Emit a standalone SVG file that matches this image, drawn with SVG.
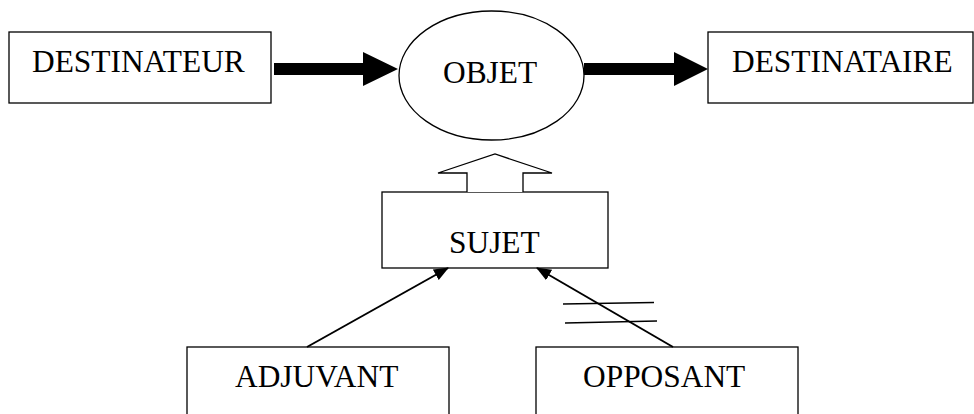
<svg xmlns="http://www.w3.org/2000/svg" width="974" height="414" viewBox="0 0 974 414">
<style>
.box{fill:#fff;stroke:#000;stroke-width:1.3}
.t{font-family:"Liberation Serif","Times New Roman",serif;font-size:31.4px;fill:#000}
.ln{stroke:#000;stroke-width:2;fill:none}
.thin{stroke:#000;stroke-width:1.5;fill:none}
</style>
<defs>
<marker id="ah" viewBox="0 0 15 12" refX="14" refY="6" markerWidth="15" markerHeight="12" markerUnits="userSpaceOnUse" orient="auto">
<path d="M0,0 L15,6 L0,12 Z" fill="#000"/>
</marker>
</defs>
<rect width="974" height="414" fill="#fff"/>
<g id="destinateur">
<rect class="box" x="9" y="32" width="262" height="71"/>
<text class="t" x="32" y="72">DESTINATEUR</text>
</g>
<g id="objet">
<ellipse class="box" cx="491.5" cy="75.5" rx="92.5" ry="64.5"/>
<text class="t" x="443" y="83">OBJET</text>
</g>
<g id="destinataire">
<rect class="box" x="708" y="32" width="265" height="71"/>
<text class="t" x="732" y="72">DESTINATAIRE</text>
</g>
<g id="sujet">
<rect class="box" x="382" y="192" width="226" height="76"/>
<text class="t" x="449" y="253">SUJET</text>
</g>
<g id="adjuvant">
<rect class="box" x="187" y="347" width="262" height="80"/>
<text class="t" x="235" y="387">ADJUVANT</text>
</g>
<g id="opposant">
<rect class="box" x="536" y="347" width="262" height="80"/>
<text class="t" x="583" y="387">OPPOSANT</text>
</g>
<g id="connectors">
<path d="M274,63 L363,63 L363,52 L398,69 L363,86 L363,75 L274,75 Z" fill="#000"/>
<path d="M584,63 L674,63 L674,52 L708,69 L674,86 L674,75 L584,75 Z" fill="#000"/>
<path d="M467,192 L467,173 L438,173 L495,154 L552,173 L523,173 L523,192" fill="#fff" stroke="#000" stroke-width="1.3"/>
<line class="ln" x1="307" y1="347" x2="448" y2="268" marker-end="url(#ah)"/>
<line class="ln" x1="673" y1="347" x2="537" y2="268" marker-end="url(#ah)"/>
<line class="thin" x1="563" y1="304" x2="654" y2="302.5"/>
<line class="thin" x1="565" y1="323" x2="657" y2="321"/>
</g>
</svg>
